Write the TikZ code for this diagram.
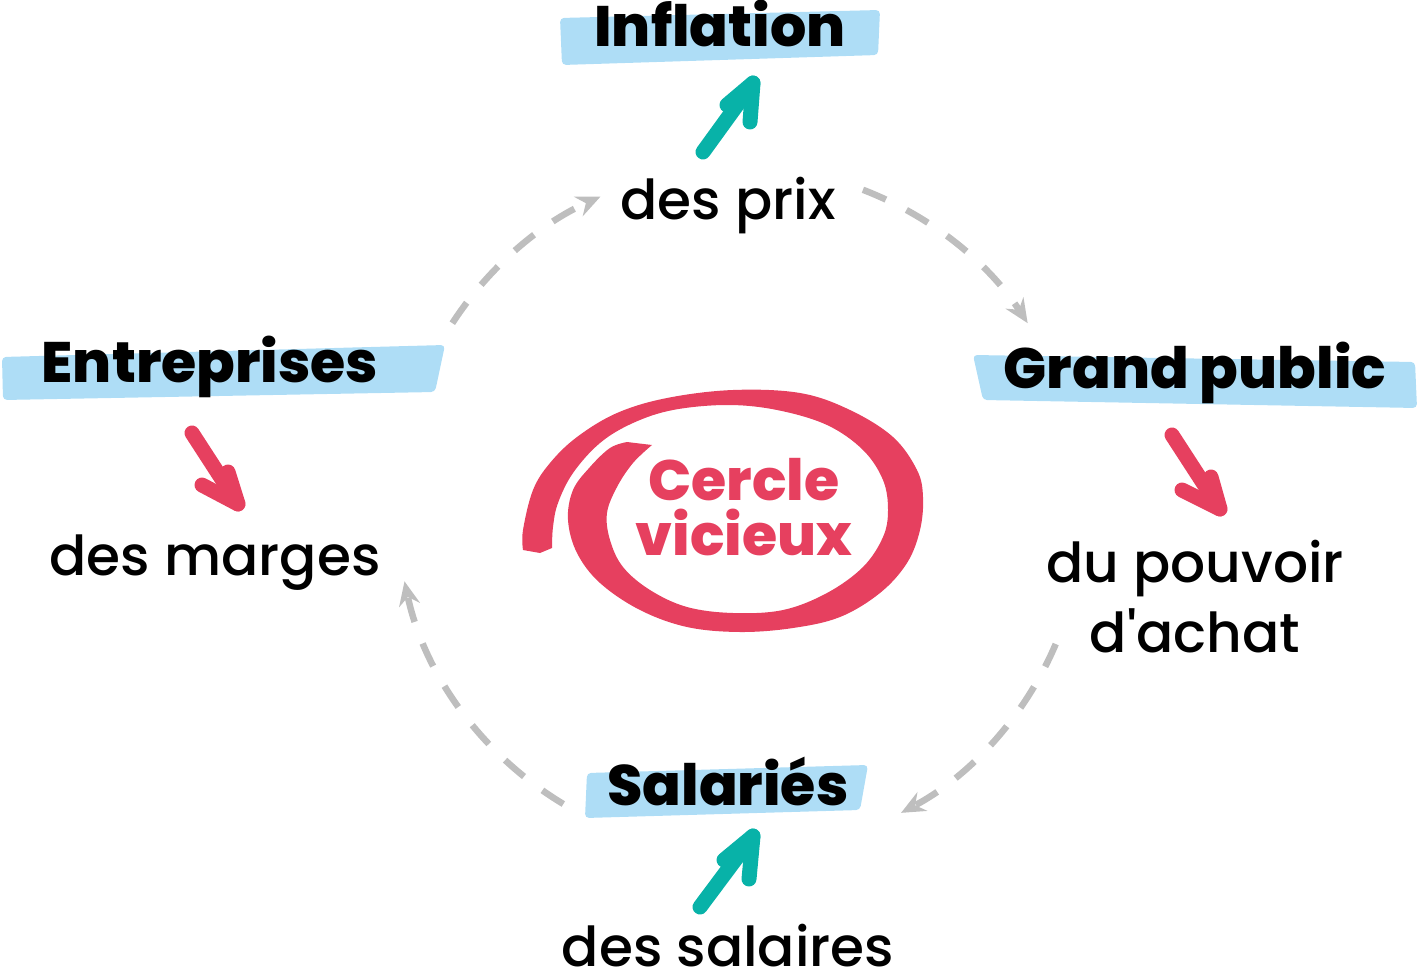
\documentclass[tikz,border=0pt]{standalone}
\usepackage{fontspec}
\setmainfont{Poppins}[UprightFont={* Medium}, BoldFont={* ExtraBold}]
\usetikzlibrary{arrows.meta}

\definecolor{bandblue}{RGB}{174,221,246}
\definecolor{hausse}{RGB}{8,178,168}
\definecolor{baisse}{RGB}{230,64,95}
\definecolor{flux}{RGB}{190,190,190}

\tikzset{
  acteur/.style={font=\fontsize{57}{60}\selectfont\bfseries, anchor=base, inner sep=0pt},
  effet/.style={font=\fontsize{55}{60}\selectfont, anchor=base, inner sep=0pt},
  titre/.style={font=\fontsize{57}{60}\selectfont\bfseries, text=baisse, anchor=base, inner sep=0pt},
  bande/.style={fill=bandblue, rounded corners=4pt},
  fleche/.style={line width=15pt, line cap=round, line join=round},
  boucle/.style={flux, line width=6.5pt, dash pattern=on 25pt off 23pt,
    -{Stealth[length=24pt,width=21pt,inset=8pt]}},
}

\begin{document}
\begin{tikzpicture}[x=1pt,y=-1pt]
\useasboundingbox (0,0) rectangle (1418,976);

% bandes bleues
\fill[bande] (560,18) -- (880,10) -- (878,55) -- (562,65) -- cycle;
\fill[bande] (2,357) -- (445,345) -- (435,392) -- (3,400) -- cycle;
\fill[bande] (973,355) -- (1415,362) -- (1417,408) -- (983,400) -- cycle;
\fill[bande] (587,773) -- (868,765) -- (860,810) -- (585,818) -- cycle;

% acteurs
\node[acteur] (inflation) at (720,47) {Inflation};
\node[acteur] (entreprises) at (210,382) {Entreprises};
\node[acteur] (grandpublic) at (1195,388) {Grand public};
\node[acteur] (salaries) at (728,805) {Salariés};

% effets
\node[effet] (prix) at (728,220) {des prix};
\node[effet] (marges) at (215,575) {des marges};
\node[effet] (pouvoir) at (1195,582) {du pouvoir};
\node[effet] (achat) at (1195,652) {d\textquotesingle achat};
\node[effet] (salaires) at (728,966) {des salaires};

% hausse / baisse
\draw[fleche,hausse] (703,152) -- (753,83);
\draw[fleche,hausse] (727,105) -- (753,83) -- (750,122);
\draw[fleche,hausse] (700,907) -- (753,836);
\draw[fleche,hausse] (724,860) -- (753,836) -- (749,879);
\draw[fleche,baisse] (192,433) -- (238,504);
\draw[fleche,baisse] (202,485) -- (238,504) -- (228,472);
\draw[fleche,baisse] (1172,435) -- (1220,509);
\draw[fleche,baisse] (1182,490) -- (1220,509) -- (1211,477);

% cercle vicieux
\fill[baisse] plot[smooth, tension=0.6] coordinates {
  (523,550) (523,530) (533,490) (550,463) (577,437) (617,413) (667,398)
  (733,390) (800,393) (850,410) (893,437) (917,470) (923,497) (920,530)
  (907,563) (880,593) (840,617) (793,628) (740,632) (687,627) (640,610)
  (600,583) (577,553) (568,520) (573,490) (590,467) (610,448) (627,442)}
  -- plot[smooth, tension=0.6] coordinates {
  (652,445) (633,463) (617,487) (607,513) (610,540) (623,567) (650,590)
  (687,607) (733,613) (783,610) (827,593) (863,567) (883,537) (888,510)
  (883,480) (863,450) (827,425) (777,410) (727,405) (673,410) (633,423)
  (600,443) (573,473) (558,503) (553,527) (552,548)}
  -- (540,553) -- cycle;
\node[titre] (cercle) at (744,500) {Cercle};
\node[titre] (vicieux) at (744,555) {vicieux};

% boucle
\coordinate (centre) at (740,510);
\draw[boucle] (centre) ++(-147:343) arc[start angle=-147, end angle=-114, radius=343];
\draw[boucle] (centre) ++(-69:343) arc[start angle=-69, end angle=-33, radius=343];
\draw[boucle] (centre) ++(23:343) arc[start angle=23, end angle=62, radius=343];
\draw[boucle] (centre) ++(121:343) arc[start angle=121, end angle=168, radius=343];
\end{tikzpicture}
\end{document}
